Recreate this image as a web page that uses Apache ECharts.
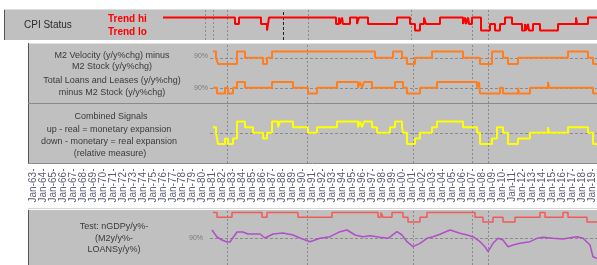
<!DOCTYPE html>
<html><head><meta charset="utf-8">
<script src="https://cdn.jsdelivr.net/npm/echarts@6.0.0/dist/echarts.min.js"></script>
<style>html,body{margin:0;padding:0;background:#fff}#c{width:597px;height:265px}</style>
</head><body><div id="c"></div>
<script>
// ---------- data ----------
const dateLabels = ['Jan-63','Jan-64','Jan-65','Jan-66','Jan-67','Jan-68','Jan-69','Jan-70','Jan-71','Jan-72','Jan-73','Jan-74','Jan-75','Jan-76','Jan-77','Jan-78','Jan-79','Jan-80','Jan-81','Jan-82','Jan-83','Jan-84','Jan-85','Jan-86','Jan-87','Jan-88','Jan-89','Jan-90','Jan-91','Jan-92','Jan-93','Jan-94','Jan-95','Jan-96','Jan-97','Jan-98','Jan-99','Jan-00','Jan-01','Jan-02','Jan-03','Jan-04','Jan-05','Jan-06','Jan-07','Jan-08','Jan-09','Jan-10','Jan-11','Jan-12','Jan-13','Jan-14','Jan-15','Jan-16','Jan-17','Jan-18','Jan-19'];

// CPI status: 2 = trend hi, 1 = mid, 0 = trend lo
const cpiStatus = [[1976.0,2],[1983.2,1],[1983.6,2],[1985.8,1],[1986.4,0],[1986.6,2],[1993.3,1],[1993.6,2],[1993.7,1],[1993.9,2],[1994.0,1],[1994.7,2],[1995.4,1],[1995.6,2],[1996.5,1],[1999.4,2],[2000.7,1],[2001.2,0],[2001.7,1],[2002.1,2],[2002.3,1],[2003.7,2],[2006.0,1],[2006.2,2],[2006.3,1],[2006.5,2],[2006.6,1],[2006.9,2],[2007.8,0],[2008.7,1],[2009.2,0],[2009.7,1],[2010.2,2],[2010.9,1],[2011.9,0],[2012.2,1],[2012.3,0],[2012.5,1],[2012.6,0],[2013.0,1],[2013.7,0],[2015.5,1],[2017.3,2],[2017.4,1],[2018.5,2],[2019.4,2]];

// M2 velocity minus M2 stock signal
const velocitySignal = [[1981.0,1],[1981.3,0],[1981.5,-1],[1983.4,1],[1984.2,0],[1986.0,-1],[1986.4,0],[1986.9,1],[1997.2,0],[1999.0,1],[1999.9,0],[2000.4,-1],[2001.2,0],[2002.9,1],[2006.0,0],[2007.7,-1],[2008.9,1],[2010.0,0],[2010.5,-1],[2011.5,0],[2016.5,1],[2018.5,0],[2019.0,-1],[2019.4,-1]];

// Total loans and leases minus M2 stock signal
const loansSignal = [[1981.0,0],[1981.4,-1],[1982.2,0],[1982.5,-1],[1983.0,0],[1983.4,1],[1984.2,0],[1986.9,1],[1989.0,0],[1990.5,-1],[1991.4,0],[1993.4,1],[1995.5,0],[1995.7,1],[1995.9,0],[1996.1,1],[1996.9,0],[1999.2,1],[2000.0,0],[2000.4,-1],[2001.7,0],[2003.4,1],[2007.4,0],[2007.6,1],[2007.7,-1],[2009.7,0],[2010.0,-1],[2011.5,0],[2011.6,-1],[2012.7,0],[2014.5,1],[2014.6,0],[2019.0,-1],[2019.4,-1]];

// Combined signals
const combinedSignal = [[1981.0,1],[1981.3,0],[1981.4,-1],[1981.5,-2],[1982.2,-1],[1982.5,-2],[1983.0,-1],[1983.4,2],[1984.2,1],[1985.0,0],[1986.0,-1],[1986.4,0],[1986.9,2],[1987.5,1],[1987.7,2],[1989.0,1],[1990.5,0],[1991.4,1],[1993.4,2],[1995.5,1],[1995.7,2],[1995.9,1],[1996.1,2],[1996.9,1],[1997.4,0],[1998.7,1],[1999.2,2],[1999.9,1],[2000.0,0],[2000.4,-2],[2001.2,-1],[2001.7,0],[2002.9,1],[2003.4,2],[2006.0,1],[2007.4,0],[2007.7,-2],[2008.9,-1],[2009.4,1],[2010.0,0],[2010.5,-2],[2011.5,-1],[2012.7,0],[2014.5,1],[2014.6,0],[2016.5,1],[2018.5,0],[2019.0,-2],[2019.4,-2]];

// Test panel: red status line and purple ratio (%)
const testStatus = [[1981.0,1],[1981.4,0],[1982.9,1],[1985.9,0],[1986.4,1],[1989.5,0],[1992.9,1],[1997.5,0],[1997.8,1],[1998.0,0],[1998.9,1],[2000.0,0],[2000.5,-1],[2001.7,0],[2002.4,1],[2007.2,0],[2008.0,-1],[2009.0,0],[2010.0,-1],[2011.2,0],[2013.7,1],[2014.2,0],[2016.0,1],[2016.5,0],[2018.4,-1],[2019.4,-1]];
const testRatio = [[1980.9,98],[1981.4,91],[1981.9,88],[1982.4,86],[1982.7,86],[1983.4,96],[1984.0,96],[1984.5,94],[1985.7,94],[1986.2,90],[1987.0,94],[1988.0,95],[1989.0,93],[1989.7,90],[1990.7,86.3],[1991.7,89.7],[1992.7,91.3],[1993.7,96.3],[1994.4,98],[1995.2,93],[1996.0,91.3],[1996.7,92.3],[1997.7,90.7],[1998.5,89.7],[1999.4,96.3],[1999.9,93],[2000.4,86.3],[2001.0,81.3],[2001.7,84.7],[2002.4,89.7],[2003.0,91.3],[2003.7,93.7],[2004.7,98],[2005.7,94.7],[2006.4,93],[2007.0,91.3],[2007.7,86.3],[2008.2,81.3],[2008.5,76.3],[2009.0,84.7],[2009.5,89.7],[2010.0,88],[2010.5,81.3],[2011.0,83],[2011.7,84.7],[2012.7,86.3],[2013.4,89.7],[2014.0,90.7],[2015.0,89.7],[2016.0,89],[2016.7,90.3],[2017.4,91.3],[2018.0,89.7],[2018.7,83],[2019.0,71.3],[2019.4,69.7]];

// reference marker dates
const topMarkers = [1980.2, 1981.0, 1982.4, 1990.5, 2000.8, 2006.9, 2008.5];
const eventMarker = [1988.0];
const panelMarkers = [1982.4, 1990.4, 2001.0, 2006.9, 2008.5];

// ---------- layout ----------
const X0 = 1959.7;             // year at pixel 0
const XMAX = 2019.4;
function xa(gi, left){ return {type:'value', gridIndex:gi, min:+(X0+left/10).toFixed(2), max:XMAX, show:false}; }
function ya(gi, mn, mx){ return {type:'value', gridIndex:gi, min:mn, max:mx, show:false}; }

const grids = [
  {left:160, right:0, top:10, height:30},     // 0 frame top
  {left:160, right:0, top:17.5, height:13},   // 1 cpi
  {left:210, right:0, top:43, height:60},     // 2 frame p2
  {left:210, right:0, top:51.5, height:12.5}, // 3 velocity
  {left:210, right:0, top:82, height:11.5},   // 4 loans
  {left:210, right:0, top:104, height:59},    // 5 frame p3
  {left:210, right:0, top:121.5, height:22.5},// 6 combined
  {left:210, right:0, top:210, height:55},    // 7 frame p5
  {left:210, right:0, top:212.5, height:9.5}, // 8 test status
  {left:210, right:0, top:218, height:44},    // 9 test ratio
  {left:33, right:4, top:168, height:1}       // 10 date labels
];
const xAxes = [xa(0,160),xa(1,160),xa(2,210),xa(3,210),xa(4,210),xa(5,210),xa(6,210),xa(7,210),xa(8,210),xa(9,210),
  {type:'category', gridIndex:10, data:dateLabels, boundaryGap:false, position:'bottom',
   axisLine:{show:false}, axisTick:{show:true, interval:0, length:2, lineStyle:{color:'#666'}},
   axisLabel:{interval:0, rotate:90, margin:3, fontSize:10, fontFamily:'Liberation Sans', color:'#5a5a75'}}];
const yAxes = [ya(0,0,1),ya(1,0,2),ya(2,0,1),ya(3,-1,1),ya(4,-1,1),ya(5,0,1),ya(6,-2,2),ya(7,0,1),ya(8,-1,1),ya(9,66,110),
  {type:'value', gridIndex:10, show:false}];

const dotted = {type:[2,2], color:'#8a8a8a', width:1};
function vlines(list, style){ return {silent:true, symbol:'none', label:{show:false}, lineStyle:style, data:list.map(v=>({xAxis:v}))}; }
function hline(v){ return {silent:true, symbol:'none', label:{show:false}, lineStyle:{type:[3,2], color:'#8a8a8a', width:1}, data:[{yAxis:v}]}; }
function frame(gi, list){ return {type:'line', xAxisIndex:gi, yAxisIndex:gi, data:[], markLine:vlines(list, dotted), animation:false}; }
function stepLine(gi, data, color, w, ref){
  const s = {type:'line', xAxisIndex:gi, yAxisIndex:gi, data:data, step:'end', showSymbol:false, clip:false,
    lineStyle:{color:color, width:w}, itemStyle:{color:color}, animation:false, z:5};
  if (ref !== undefined) s.markLine = hline(ref);
  return s;
}

const series = [
  frame(0, topMarkers),
  {type:'line', xAxisIndex:0, yAxisIndex:0, data:[], markLine:vlines(eventMarker, {type:[3,2], color:'#222', width:1}), animation:false},
  stepLine(1, cpiStatus, '#ff0000', 2),
  frame(2, panelMarkers),
  stepLine(3, velocitySignal, '#ff7f20', 2, 0),
  stepLine(4, loansSignal, '#ff7f20', 2, 0),
  frame(5, panelMarkers),
  stepLine(6, combinedSignal, '#ffff00', 2, 0),
  frame(7, panelMarkers),
  stepLine(8, testStatus, '#f25a5a', 1.5),
  {type:'line', xAxisIndex:9, yAxisIndex:9, data:testRatio, showSymbol:false, clip:false,
    lineStyle:{color:'#b04fc8', width:1.5}, markLine:hline(90), animation:false, z:5}
];

function rect(x,y,w,h,fill){ return {type:'rect', shape:{x:x,y:y,width:w,height:h}, style:{fill:fill}, silent:true, z:-10}; }
function ln(x1,y1,x2,y2,c){ return {type:'line', shape:{x1:x1,y1:y1,x2:x2,y2:y2}, style:{stroke:c, lineWidth:1}, silent:true, z:-5}; }
function txt(t,x,y,size,color,align,bold){ return {type:'text', x:x, y:y, silent:true, z:100,
  style:{text:t, font:(bold?'bold ':'')+size+'px "Liberation Sans", Arial, sans-serif', fill:color, textAlign:align||'center', textVerticalAlign:'middle'}}; }

const graphics = [
  rect(4,10,593,30,'#c0c0c0'),
  ln(4,9.5,597,9.5,'#dcdcdc'),
  ln(4.5,10,4.5,40,'#555'),
  rect(28,43,569,120,'#c0c0c0'),
  ln(28,43.5,597,43.5,'#e2e2e2'),
  ln(28.5,43,28.5,163,'#555'),
  ln(28,103.5,597,103.5,'#8a8a8a'),
  ln(28,163.5,597,163.5,'#8a8a8a'),
  ln(28,208.5,597,208.5,'#d6d6d6'),
  rect(28,210,569,55,'#c0c0c0'),
  ln(28.5,210,28.5,265,'#555'),
  txt('CPI Status',24,25.5,10,'#2a2a2a','left'),
  txt('Trend hi',108,19,10,'#ff0000','left',true),
  txt('Trend lo',108,32.5,10,'#ff0000','left',true),
  txt('M2 Velocity (y/y%chg) minus',112,55.5,9,'#3a3a3a'),
  txt('M2 Stock (y/y%chg)',112,67,9,'#3a3a3a'),
  txt('Total Loans and Leases (y/y%chg)',112,80.5,9,'#3a3a3a'),
  txt('minus M2 Stock (y/y%chg)',112,92.5,9,'#3a3a3a'),
  txt('90%',201,56.5,7,'#7a7a7a'),
  txt('90%',201,88,7,'#7a7a7a'),
  txt('Combined Signals',111,117,9,'#3a3a3a'),
  txt('up - real = monetary expansion',109,130,9,'#3a3a3a'),
  txt('down - monetary = real expansion',109,141.5,9,'#3a3a3a'),
  txt('(relative measure)',110,154,9,'#3a3a3a'),
  txt('Test: nGDPy/y%-',114,227,9,'#3a3a3a'),
  txt('(M2y/y%-',114,238.5,9,'#3a3a3a'),
  txt('LOANSy/y%)',114,250,9,'#3a3a3a'),
  txt('90%',196,238.5,7,'#7a7a7a')
];

const chart = echarts.init(document.getElementById('c'), null, {renderer:'canvas'});
chart.setOption({
  animation:false,
  backgroundColor:'#ffffff',
  grid:grids, xAxis:xAxes, yAxis:yAxes, series:series, graphic:graphics
});
</script></body></html>
